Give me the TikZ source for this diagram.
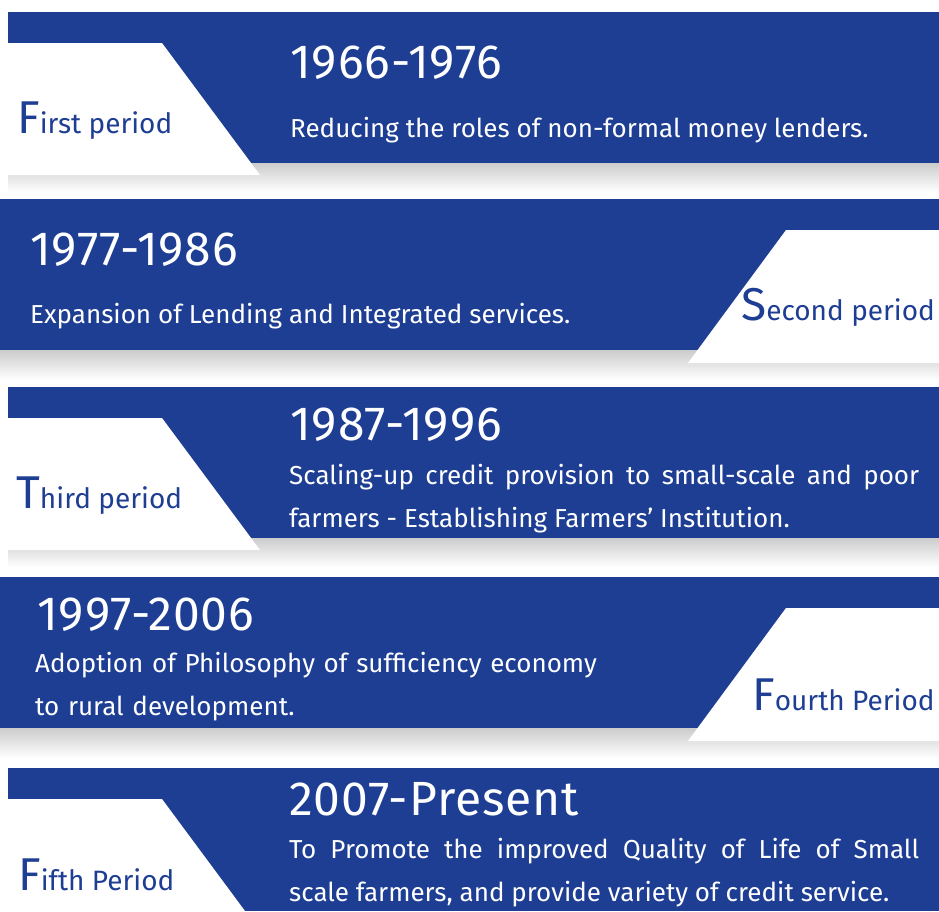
\documentclass[tikz,border=0pt]{standalone}
\usepackage{fontspec}
\setmainfont{Fira Sans}
\usetikzlibrary{positioning}
\definecolor{bandblue}{RGB}{30,62,148}
\newcommand{\initial}[1]{{\fontsize{46}{46}\selectfont #1}}

\begin{document}
\begin{tikzpicture}[x=1pt,y=-1pt,
    band/.style={fill=bandblue},
    tab/.style={fill=white},
    drop/.style={top color=black!20,bottom color=white,draw=none},
    year/.style={anchor=base west,inner sep=0pt,text=white,
      font=\fontsize{48}{48}\selectfont\addfontfeature{LetterSpace=2}},
    desc/.style={anchor=base west,inner sep=0pt,text=white,font=\fontsize{26}{43}\selectfont},
    periodname/.style={anchor=base west,inner sep=0pt,text=bandblue,font=\fontsize{28}{28}\selectfont}]
  \useasboundingbox (0,0) rectangle (939,911);

  % first period
  \shade[drop] (8,163) rectangle (939,192);
  \fill[band] (8,12) rectangle (939,163);
  \fill[tab] (8,43) -- (162,43) -- (260,175) -- (8,175) -- cycle;
  \node[periodname] (p1) at (17,133) {\initial{F}irst period};
  \node[year] (y1) at (290,78) {1966-1976};
  \node[desc] (d1) at (290,137) {Reducing the roles of non-formal money lenders.};

  % second period
  \shade[drop] (0,350) rectangle (939,380);
  \fill[band] (0,199) rectangle (939,350);
  \fill[tab] (786,230) -- (939,230) -- (939,363) -- (688,363) -- cycle;
  \node[periodname] (p2) at (741,320) {\initial{S}econd period};
  \node[year] (y2) at (30,265) {1977-1986};
  \node[desc] (d2) at (30,323) {Expansion of Lending and Integrated services.};

  % third period
  \shade[drop] (8,538) rectangle (939,567);
  \fill[band] (8,387) rectangle (939,538);
  \fill[tab] (8,418) -- (162,418) -- (260,550) -- (8,550) -- cycle;
  \node[periodname] (p3) at (16,508) {\initial{T}hird period};
  \node[year] (y3) at (290,440) {1987-1996};
  \node[desc,text width=630pt,align=justify] (d3) at (289,484)
    {Scaling-up credit provision to small-scale and poor\linebreak farmers - Establishing Farmers' Institution.};

  % fourth period
  \shade[drop] (0,728) rectangle (939,758);
  \fill[band] (0,577) rectangle (939,728);
  \fill[tab] (786,608) -- (939,608) -- (939,741) -- (688,741) -- cycle;
  \node[periodname] (p4) at (752,710) {\initial{F}ourth Period};
  \node[year] (y4) at (37,630) {1997-2006};
  \node[desc,text width=600pt,align=left] (d4) at (35,672)
    {Adoption of Philosophy of sufficiency economy\\to rural development.};

  % fifth period
  \fill[band] (8,768) rectangle (939,911);
  \fill[tab] (8,799) -- (162,799) -- (245,911) -- (8,911) -- cycle;
  \node[periodname] (p5) at (18,890) {\initial{F}ifth Period};
  \node[year] (y5) at (289,815) {2007-Present};
  \node[desc,text width=630pt,align=justify] (d5) at (289,858)
    {To Promote the improved Quality of Life of Small\linebreak scale farmers, and provide variety of credit service.};
\end{tikzpicture}
\end{document}
